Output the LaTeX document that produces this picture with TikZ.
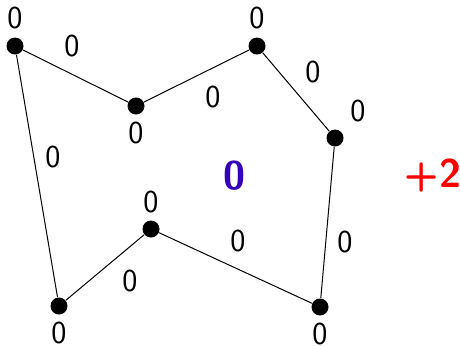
\documentclass[tikz,border=0pt]{standalone}
\usepackage{tikz}
\definecolor{sumblue}{RGB}{51,0,187}
\tikzstyle{vertex} = [circle, fill=black, inner sep=0pt, minimum size=8.5pt]
\tikzstyle{num} = [inner sep=0pt, font=\fontsize{16}{18}\selectfont\sffamily]
\tikzstyle{edge} = [line width=0.5pt]
\begin{document}
\begin{tikzpicture}[x=0.5pt, y=-0.5pt]
\useasboundingbox (0,0) rectangle (460,345);
\node (a) [vertex] at (15,46)  {};
\node (b) [vertex] at (136,106) {};
\node (c) [vertex] at (257,46)  {};
\node (d) [vertex] at (335,138) {};
\node (e) [vertex] at (320,307) {};
\node (f) [vertex] at (151,229) {};
\node (g) [vertex] at (59,306)  {};
\draw [edge] (a) -- (b);
\draw [edge] (b) -- (c);
\draw [edge] (c) -- (d);
\draw [edge] (d) -- (e);
\draw [edge] (e) -- (f);
\draw [edge] (f) -- (g);
\draw [edge] (g) -- (a);
% vertex values
\node (la) [num] at (15,18)   {0};
\node (lb) [num] at (136,133) {0};
\node (lc) [num] at (257,18)  {0};
\node (ld) [num] at (358,111) {0};
\node (le) [num] at (320,334) {0};
\node (lf) [num] at (151,202) {0};
\node (lg) [num] at (59,333)  {0};
% edge values
\node (lab) [num] at (72,46)   {0};
\node (lbc) [num] at (213,97)  {0};
\node (lcd) [num] at (313,72)  {0};
\node (lde) [num] at (345,242) {0};
\node (lef) [num] at (238,241) {0};
\node (lfg) [num] at (130,281) {0};
\node (lga) [num] at (53,157)  {0};
% totals
\node (sum) [inner sep=0pt, font=\fontsize{20}{24}\selectfont\sffamily\bfseries, text=sumblue] at (234,176) {0};
\node (gain) [inner sep=0pt, font=\fontsize{20}{24}\selectfont\sffamily\bfseries, text=red] at (433,176) {+2};
\end{tikzpicture}
\end{document}
